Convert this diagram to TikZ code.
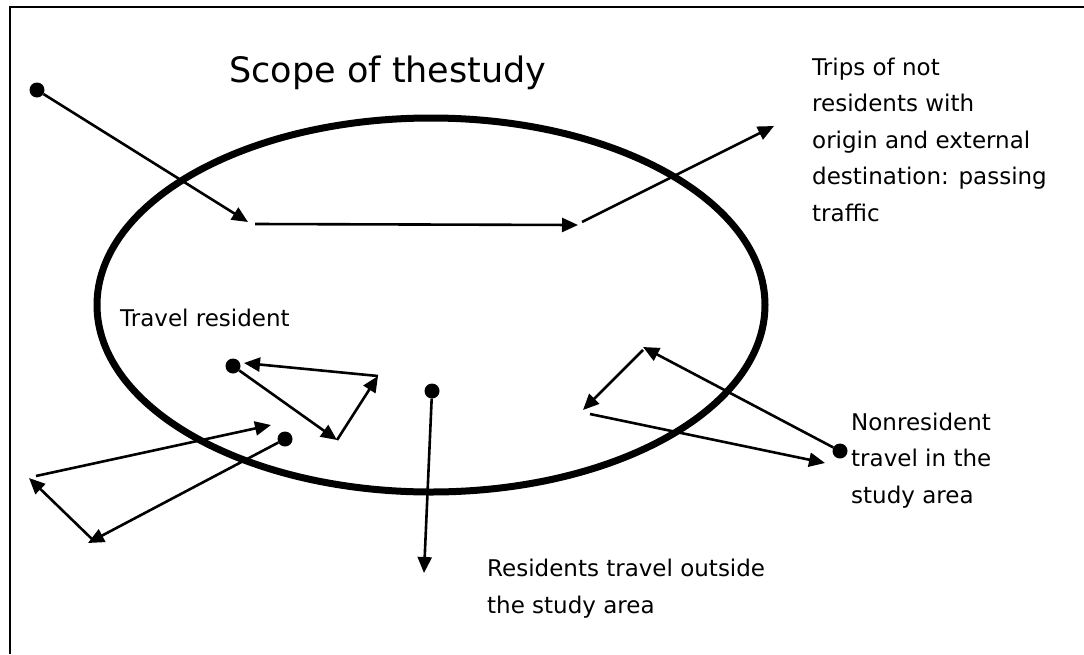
\documentclass[tikz,border=0pt]{standalone}
\usepackage{fontspec}
\setmainfont{DejaVu Sans}
\usetikzlibrary{arrows.meta}
\begin{document}
\begin{tikzpicture}[x=1pt,y=-1pt,
  link/.style={line width=2.6pt,-{Triangle[length=16pt,width=14pt]}},
  stop/.style={circle,fill=black,inner sep=0pt,minimum size=15pt},
  lbl/.style={font=\fontsize{23}{36.5}\selectfont,align=left,anchor=north west,inner sep=0pt}]
\useasboundingbox (0,0) rectangle (1084,654);
% page frame (top and left rules)
\draw[line width=2pt] (10,654) -- (10,7) -- (1084,7);
% study area
\draw[line width=7pt] (431,305) ellipse [x radius=334, y radius=187];
% title
\node[font=\fontsize{35}{40}\selectfont,inner sep=0pt] (title) at (388,73) {Scope of thestudy};

% passing traffic
\node[stop] (p0) at (37,90) {};
\coordinate (p1) at (248,222);
\coordinate (p2) at (255,224);
\coordinate (p3) at (578,225);
\coordinate (p4) at (582,222);
\coordinate (p5) at (774,126);
\draw[link] (p0) -- (p1);
\draw[link] (p2) -- (p3);
\draw[link] (p4) -- (p5);
\node[lbl] (tpass) at (812,57.5) {Trips of not\\residents with\\origin and external\\destination: passing\\traffic};

% resident trips inside the area
\node[stop] (r0) at (233,366) {};
\coordinate (r1) at (337,440);
\coordinate (r2) at (378,376);
\coordinate (r3) at (244,363);
\draw[link] (r0) -- (r1);
\draw[link] (r1) -- (r2);
\draw[link] (r2) -- (r3);
\node[lbl] (tres) at (120,309) {Travel resident};

% resident trips leaving the area
\node[stop] (o0) at (285,439) {};
\coordinate (o1) at (88,543);
\coordinate (o1s) at (93,540);
\coordinate (o2) at (29,478);
\coordinate (o2s) at (36,476);
\coordinate (o3) at (271,425);
\draw[link] (o0) -- (o1);
\draw[link] (o1s) -- (o2);
\draw[link] (o2s) -- (o3);

\node[stop] (m0) at (432,391) {};
\coordinate (m1) at (424,573);
\draw[link] (m0) -- (m1);
\node[lbl] (tout) at (487,559) {Residents travel outside\\the study area};

% non-resident trips into the area
\node[stop] (n0) at (840,451) {};
\coordinate (n1) at (643,347);
\coordinate (n1s) at (643,350);
\coordinate (n2) at (583,410);
\coordinate (n2s) at (590,414);
\coordinate (n3) at (825,463);
\draw[link] (n0) -- (n1);
\draw[link] (n1s) -- (n2);
\draw[link] (n2s) -- (n3);
\node[lbl] (tnon) at (851,412.5) {Nonresident\\travel in the\\study area};
\end{tikzpicture}
\end{document}
